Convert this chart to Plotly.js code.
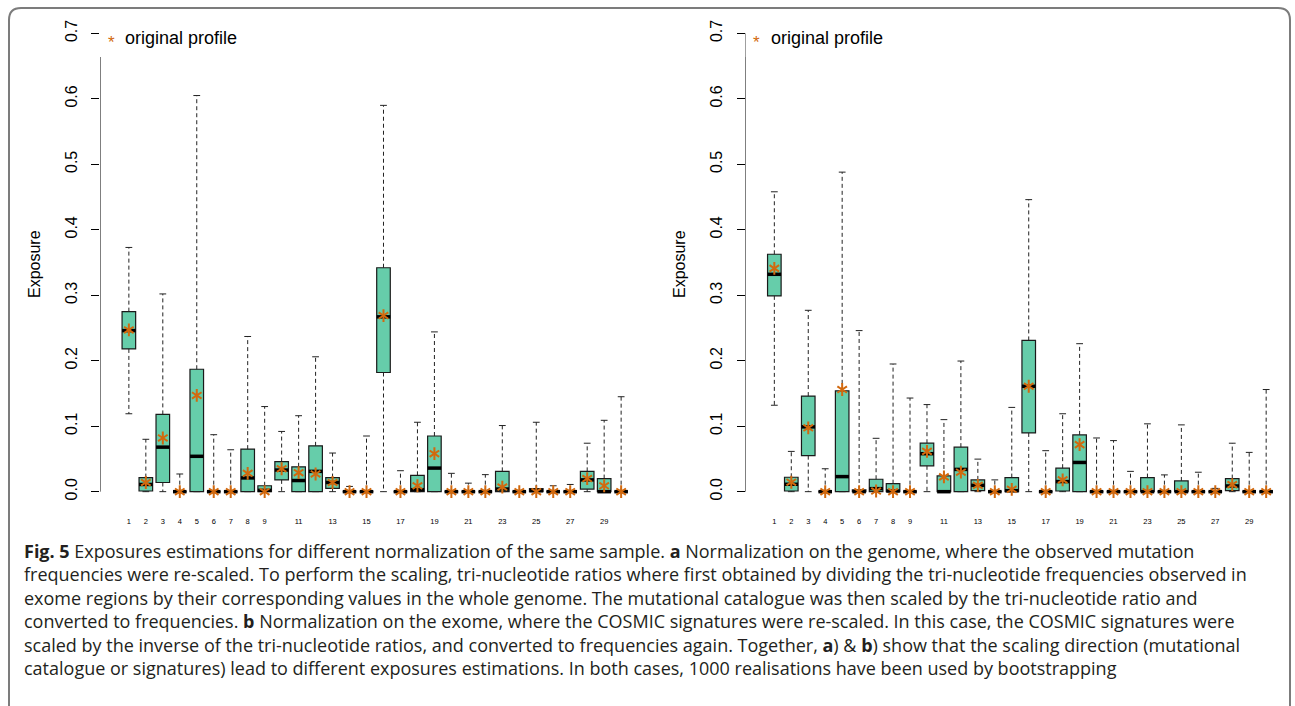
<!DOCTYPE html>
<html>
<head>
<meta charset="utf-8">
<script src="https://cdn.plot.ly/plotly-3.0.1.min.js"></script>
<style>html,body{margin:0;padding:0;background:#fff;}#chart{width:1295px;height:706px;}</style>
</head>
<body>
<div id="chart"></div>
<script>
// ---------- data ----------
const signatures = [1,2,3,4,5,6,7,8,9,10,11,12,13,14,15,16,17,18,19,20,21,22,23,24,25,26,27,28,29,30];
const xTickVals = [1,2,3,4,5,6,7,8,9,11,13,15,17,19,21,23,25,27,29];
const yTickVals = [0,0.1,0.2,0.3,0.4,0.5,0.6,0.7];
const yTickText = ['0.0','0.1','0.2','0.3','0.4','0.5','0.6','0.7'];

// (a) normalization on the genome
const genomeLow  = [0.119,0,0,0,0,0,0,0,0,0,0,0,0,0,0,0,0,0,0,0,0,0,0,0,0,0,0,0,0,0];
const genomeQ1   = [0.218,0.001,0.014,0,0,0,0,0,0,0.018,0,0,0.005,0,0,0.182,0,0,0,0,0,0,0,0,0,0,0,0.004,0,0];
const genomeMed  = [0.246,0.011,0.068,0,0.054,0,0,0.021,0.002,0.033,0.017,0.031,0.014,0,0,0.267,0,0.003,0.036,0,0,0,0.004,0,0.0015,0,0,0.018,0,0];
const genomeQ3   = [0.275,0.0215,0.118,0,0.187,0,0,0.065,0.009,0.046,0.038,0.070,0.0215,0,0,0.342,0,0.025,0.085,0,0,0,0.031,0,0.0046,0,0,0.031,0.020,0];
const genomeHigh = [0.373,0.080,0.302,0.027,0.605,0.087,0.064,0.237,0.130,0.092,0.116,0.206,0.059,0.008,0.085,0.590,0.032,0.106,0.244,0.028,0.013,0.026,0.101,0.002,0.106,0.009,0.011,0.074,0.109,0.145];
const genomeOrig = [0.247,0.014,0.082,0,0.147,0,0,0.028,0,0.035,0.029,0.027,0.014,0,0,0.269,0,0.009,0.058,0,0,0,0.007,0,0,0,0,0.020,0.009,0];

// (b) normalization on the exome
const exomeLow  = [0.132,0,0,0,0,0,0,0,0,0,0,0,0,0,0,0,0,0,0,0,0,0,0,0,0,0,0,0,0,0];
const exomeQ1   = [0.299,0.001,0.055,0,0,0,0,0,0,0.0395,0,0,0.0015,0,0,0.0897,0,0.001,0,0,0,0,0,0,0,0,0,0.0015,0,0];
const exomeMed  = [0.332,0.0113,0.099,0,0.023,0,0.0046,0.001,0,0.058,0,0.034,0.0097,0,0.0015,0.161,0,0.0154,0.0446,0,0,0,0,0,0,0,0,0.0087,0,0];
const exomeQ3   = [0.3626,0.022,0.146,0,0.154,0.0026,0.019,0.0123,0,0.074,0.024,0.068,0.018,0,0.0215,0.231,0,0.0359,0.0867,0,0,0,0.0215,0,0.0164,0,0,0.020,0,0];
const exomeHigh = [0.458,0.0615,0.277,0.035,0.488,0.246,0.0815,0.195,0.143,0.133,0.110,0.1995,0.0497,0.018,0.1287,0.446,0.0626,0.119,0.226,0.082,0.078,0.031,0.1036,0.0256,0.102,0.0297,0.005,0.074,0.060,0.156];
const exomeOrig = [0.341,0.0144,0.0975,0,0.156,0,0.001,0,0,0.0615,0.0226,0.0297,0.0097,0,0.0036,0.161,0,0.018,0.0718,0,0,0,0,0,0,0,0,0.0108,0,0];

const legendLabel = 'original profile';
const yLabel = 'Exposure';
const captionLines = [
  '<b>Fig. 5</b> Exposures estimations for different normalization of the same sample. <b>a</b> Normalization on the genome, where the observed mutation',
  'frequencies were re-scaled. To perform the scaling, tri-nucleotide ratios where first obtained by dividing the tri-nucleotide frequencies observed in',
  'exome regions by their corresponding values in the whole genome. The mutational catalogue was then scaled by the tri-nucleotide ratio and',
  'converted to frequencies. <b>b</b> Normalization on the exome, where the COSMIC signatures were re-scaled. In this case, the COSMIC signatures were',
  'scaled by the inverse of the tri-nucleotide ratios, and converted to frequencies again. Together, <b>a</b>) &amp; <b>b</b>) show that the scaling direction (mutational',
  'catalogue or signatures) lead to different exposures estimations. In both cases, 1000 realisations have been used by bootstrapping'
];

// ---------- styling ----------
const W = 1295, H = 706;
const px = x => x / W, py = y => 1 - y / H;
const BOX_W = 0.8, CAP_W = 0.4;
const FILL = '#66CDAA', STAR = '#D2690E';
const AX_FONT = 'Liberation Sans, Arial, sans-serif';

function panelTraces(q1, med, q3, lo, hi, orig, xa, ya) {
  const traces = [];
  traces.push({
    type: 'box', x: signatures, q1: q1, median: med, q3: q3,
    lowerfence: q1, upperfence: q3, width: BOX_W, whiskerwidth: 0,
    fillcolor: FILL, line: {color: '#1a1a1a', width: 1.2},
    boxpoints: false, xaxis: xa, yaxis: ya, showlegend: false, hoverinfo: 'skip'
  });
  // dashed whiskers
  const wx = [], wy = [];
  signatures.forEach((s, i) => {
    wx.push(s, s, null, s, s, null);
    wy.push(q3[i], hi[i], null, q1[i], lo[i], null);
  });
  traces.push({type: 'scatter', mode: 'lines', x: wx, y: wy, xaxis: xa, yaxis: ya,
    line: {color: '#222', width: 1, dash: '4px,3px'}, showlegend: false, hoverinfo: 'skip'});
  // staples
  const cx = [], cy = [];
  signatures.forEach((s, i) => {
    cx.push(s - CAP_W/2, s + CAP_W/2, null, s - CAP_W/2, s + CAP_W/2, null);
    cy.push(hi[i], hi[i], null, lo[i], lo[i], null);
  });
  traces.push({type: 'scatter', mode: 'lines', x: cx, y: cy, xaxis: xa, yaxis: ya,
    line: {color: '#222', width: 1}, showlegend: false, hoverinfo: 'skip'});
  // medians
  const mx = [], my = [];
  signatures.forEach((s, i) => {
    mx.push(s - BOX_W/2, s + BOX_W/2, null);
    my.push(med[i], med[i], null);
  });
  traces.push({type: 'scatter', mode: 'lines', x: mx, y: my, xaxis: xa, yaxis: ya,
    line: {color: '#000', width: 3.5}, showlegend: false, hoverinfo: 'skip'});
  // original profile stars (two three-armed marks overlaid = asterisk)
  ['y-up-open', 'y-down-open'].forEach(sym => {
    traces.push({type: 'scatter', mode: 'markers', x: signatures, y: orig, xaxis: xa, yaxis: ya,
      marker: {symbol: sym, size: 8, color: STAR, line: {color: STAR, width: 2}},
      name: legendLabel, showlegend: false, hoverinfo: 'skip'});
  });
  return traces;
}

const data = [].concat(
  panelTraces(genomeQ1, genomeMed, genomeQ3, genomeLow, genomeHigh, genomeOrig, 'x', 'y'),
  panelTraces(exomeQ1, exomeMed, exomeQ3, exomeLow, exomeHigh, exomeOrig, 'x2', 'y2')
);

const xRange = [-0.7, 31.7];
const yRange = [-0.028, 0.728];
const yDomain = [py(510), py(15)];

function xAxis(domain, anchor) {
  return {domain: domain, range: xRange, anchor: anchor, tickvals: xTickVals,
    ticktext: xTickVals.map(String), showline: false, showgrid: false, zeroline: false,
    ticks: '', tickfont: {family: AX_FONT, size: 7.5, color: '#000'}, ticklabelstandoff: 5, fixedrange: true};
}
function yAxis(anchor) {
  return {domain: yDomain, range: yRange, anchor: anchor, tickvals: yTickVals, ticktext: yTickText,
    tickangle: -90, ticks: 'outside', ticklen: 8, tickwidth: 1, tickcolor: '#000',
    showline: false, showgrid: false, zeroline: false,
    tickfont: {family: AX_FONT, size: 16, color: '#000'}, ticklabelstandoff: 8, fixedrange: true};
}

const axisLeft = 100, axisRight = 745.5;
const shapes = [];
[['x','y'],['x2','y2']].forEach(([xa, ya]) => {
  shapes.push({type: 'line', xref: xa, yref: ya, x0: xRange[0], x1: xRange[0], y0: 0, y1: 0.7,
    line: {color: '#000', width: 1}});
  // legend background
  shapes.push({type: 'rect', xref: xa, yref: ya, x0: xRange[0], x1: 7.8, y0: 0.664, y1: yRange[1],
    fillcolor: '#fff', line: {width: 0}, layer: 'above'});
});
// figure frame with rounded top corners
(function () {
  const x0 = 9, x1 = 1290, y0 = 8, yb = 740, r = 12;
  const P = (x, y) => px(x).toFixed(5) + ',' + py(y).toFixed(5);
  shapes.push({type: 'path', xref: 'paper', yref: 'paper',
    path: 'M' + P(x0, yb) + ' L' + P(x0, y0 + r) + ' Q' + P(x0, y0) + ' ' + P(x0 + r, y0) +
          ' L' + P(x1 - r, y0) + ' Q' + P(x1, y0) + ' ' + P(x1, y0 + r) + ' L' + P(x1, yb),
    line: {color: '#7c7c7c', width: 2}});
})();

const annotations = [];
[[axisLeft, 35], [axisRight, 680]].forEach(([ax, lx]) => {
  annotations.push({xref: 'paper', yref: 'paper', x: px(lx), y: py(264), text: yLabel, textangle: -90,
    showarrow: false, xanchor: 'center', yanchor: 'middle', font: {family: AX_FONT, size: 16, color: '#000'}});
  annotations.push({xref: 'paper', yref: 'paper', x: px(ax + 11), y: py(42), text: '*',
    showarrow: false, xanchor: 'center', yanchor: 'middle', font: {family: AX_FONT, size: 17, color: STAR}});
  annotations.push({xref: 'paper', yref: 'paper', x: px(ax + 23), y: py(38), text: legendLabel,
    showarrow: false, xanchor: 'left', yanchor: 'middle', font: {family: AX_FONT, size: 18, color: '#000'}});
});
captionLines.forEach((t, i) => {
  annotations.push({xref: 'paper', yref: 'paper', x: px(22), y: py(551 + 23.4 * i), text: t,
    showarrow: false, xanchor: 'left', yanchor: 'middle', align: 'left',
    font: {family: 'Open Sans, Noto Sans, sans-serif', size: 18, color: '#231f20'}});
});

const layout = {
  width: W, height: H, margin: {l: 0, r: 0, t: 0, b: 0},
  paper_bgcolor: '#fff', plot_bgcolor: 'rgba(0,0,0,0)', showlegend: false,
  xaxis: xAxis([px(axisLeft), px(650)], 'y'),
  yaxis: yAxis('x'),
  xaxis2: xAxis([px(axisRight), 1], 'y2'),
  yaxis2: yAxis('x2'),
  shapes: shapes, annotations: annotations
};

Plotly.newPlot('chart', data, layout, {displayModeBar: false, staticPlot: true});
</script>
</body>
</html>
